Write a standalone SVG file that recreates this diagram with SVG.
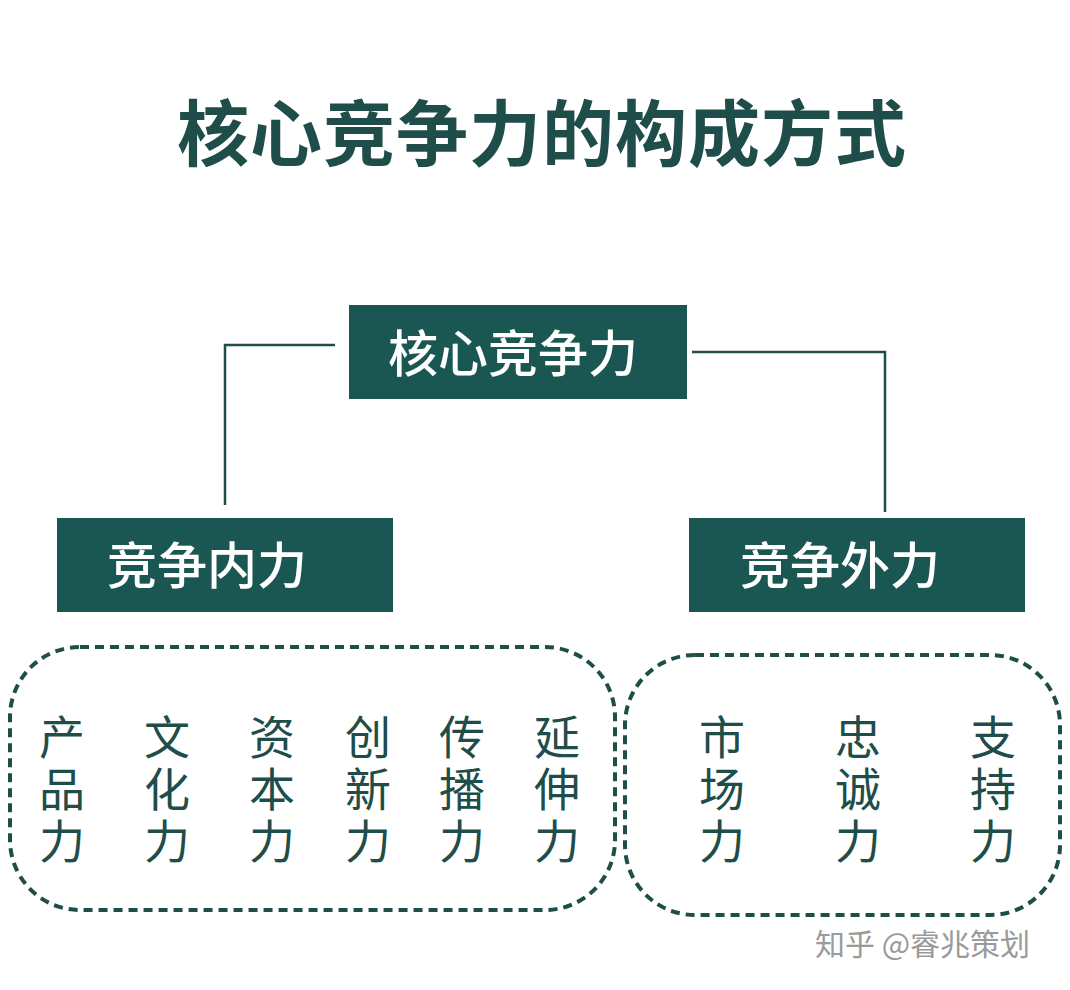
<svg xmlns="http://www.w3.org/2000/svg" width="1070" height="990" viewBox="0 0 1070 990">
<style>
.cjk{font-family:"Noto Sans CJK SC","Noto Sans",sans-serif}
.box{fill:#1b5752}
.bt{fill:#fff;font-size:50px;font-weight:500}
.col{fill:#1e4d4a;font-size:46px;text-anchor:middle}
.ln{stroke:#1e4d4a;stroke-width:2.5;fill:none}
.dash{stroke:#1e4d4a;stroke-width:4;fill:none;stroke-dasharray:9 6}
</style>
<rect width="1070" height="990" fill="#fff"/>
<text class="cjk" x="542" y="160" font-size="72" font-weight="bold" fill="#1e4d4a" text-anchor="middle" letter-spacing="1">核心竞争力的构成方式</text>
<g id="connectors">
<path class="ln" d="M335 345 H225 V505"/>
<path class="ln" d="M692 352 H885 V512"/>
</g>
<g id="core"><rect class="box" x="349" y="305" width="338" height="94"/><text class="cjk bt" x="513" y="372" text-anchor="middle">核心竞争力</text></g>
<g id="inner"><rect class="box" x="57" y="518" width="336" height="94"/><text class="cjk bt" x="107" y="584">竞争内力</text></g>
<g id="outer"><rect class="box" x="689" y="518" width="336" height="94"/><text class="cjk bt" x="740" y="584">竞争外力</text></g>
<g id="innerGroup">
<rect class="dash" x="10" y="647" width="605" height="263" rx="70"/>
<g class="cjk col">
<text x="62" y="754">产</text><text x="62" y="806">品</text><text x="62" y="858">力</text>
<text x="167" y="754">文</text><text x="167" y="806">化</text><text x="167" y="858">力</text>
<text x="272" y="754">资</text><text x="272" y="806">本</text><text x="272" y="858">力</text>
<text x="368" y="754">创</text><text x="368" y="806">新</text><text x="368" y="858">力</text>
<text x="462" y="754">传</text><text x="462" y="806">播</text><text x="462" y="858">力</text>
<text x="557" y="754">延</text><text x="557" y="806">伸</text><text x="557" y="858">力</text>
</g></g>
<g id="outerGroup">
<rect class="dash" x="625" y="655" width="435" height="260" rx="70"/>
<g class="cjk col">
<text x="722" y="754">市</text><text x="722" y="806">场</text><text x="722" y="858">力</text>
<text x="858" y="754">忠</text><text x="858" y="806">诚</text><text x="858" y="858">力</text>
<text x="993" y="754">支</text><text x="993" y="806">持</text><text x="993" y="858">力</text>
</g></g>
<text class="cjk" x="815" y="955" font-size="30" fill="#9a9a9a">知乎 @睿兆策划</text>
</svg>
